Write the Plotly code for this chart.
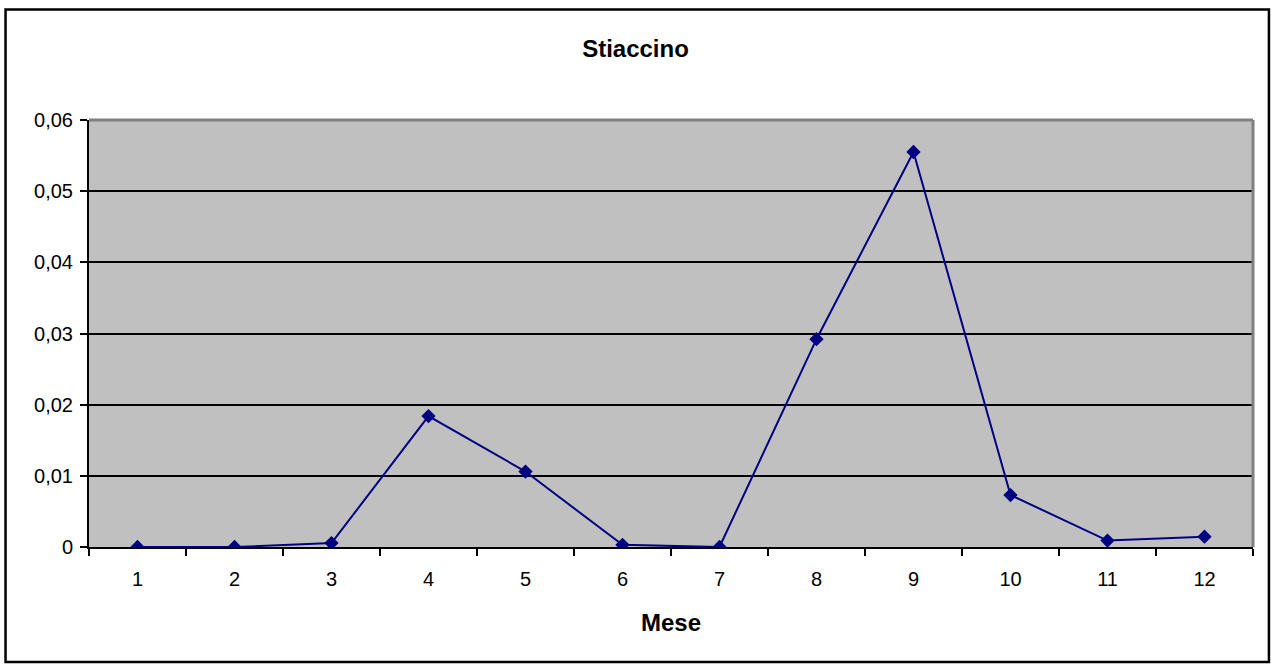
import plotly.graph_objects as go

# Data
mesi = ['1', '2', '3', '4', '5', '6', '7', '8', '9', '10', '11', '12']
valori = [0.0, 0.0, 0.00055, 0.0184, 0.0106, 0.0003, 0.0, 0.0292, 0.0555, 0.0073, 0.0009, 0.00145]

navy = '#000080'
font_name = 'Liberation Sans, Arial, sans-serif'

fig = go.Figure()

fig.add_trace(
    go.Scatter(
        x=mesi, y=valori, mode='lines+markers',
        line=dict(color=navy, width=2),
        marker=dict(symbol='diamond', size=11, color=navy),
        showlegend=False,
    ))

fig.update_xaxes(
    type='category', tickson='boundaries', range=[-0.5, len(mesi) - 0.5],
    ticks='outside', ticklen=7, tickcolor='black', tickwidth=2,
    showline=True, linecolor='black', linewidth=2,
    showgrid=False, zeroline=False,
    tickfont=dict(size=20, color='black'), ticklabelstandoff=13,
    title=dict(text='<b>Mese</b>', font=dict(size=24, color='black'), standoff=25),
)
fig.update_yaxes(
    range=[0, 0.06], dtick=0.01, tickformat='~g',
    ticks='outside', ticklen=7, tickcolor='black', tickwidth=2,
    showline=True, linecolor='black', linewidth=2,
    showgrid=True, gridcolor='black', gridwidth=1.5, zeroline=False,
    tickfont=dict(size=20, color='black'), ticklabelstandoff=3,
)

# bordo grigio dell'area del grafico (alto e destra)
fig.add_shape(type='line', xref='paper', yref='paper', x0=0, x1=1, y0=1, y1=1,
              line=dict(color='#808080', width=3))
fig.add_shape(type='line', xref='paper', yref='paper', x0=1, x1=1, y0=0, y1=1,
              line=dict(color='#808080', width=3))
# cornice esterna
fig.add_shape(type='rect', xref='paper', yref='paper',
              x0=-0.0717, x1=1.0137, y0=-0.2693, y1=1.2588,
              line=dict(color='black', width=2.5))

fig.update_layout(
    title=dict(text='<b>Stiaccino</b>', x=0.5, xanchor='center', y=0.927, yanchor='middle',
               font=dict(size=24, color='black')),
    font=dict(family=font_name, color='black'),
    separators=',.',
    plot_bgcolor='#c0c0c0',
    paper_bgcolor='white',
    width=1271, height=664,
    margin=dict(l=89, r=18, t=120, b=117),
)

fig.write_html('out.html', config={'displayModeBar': False},
               post_script="document.body.style.margin='0';")
